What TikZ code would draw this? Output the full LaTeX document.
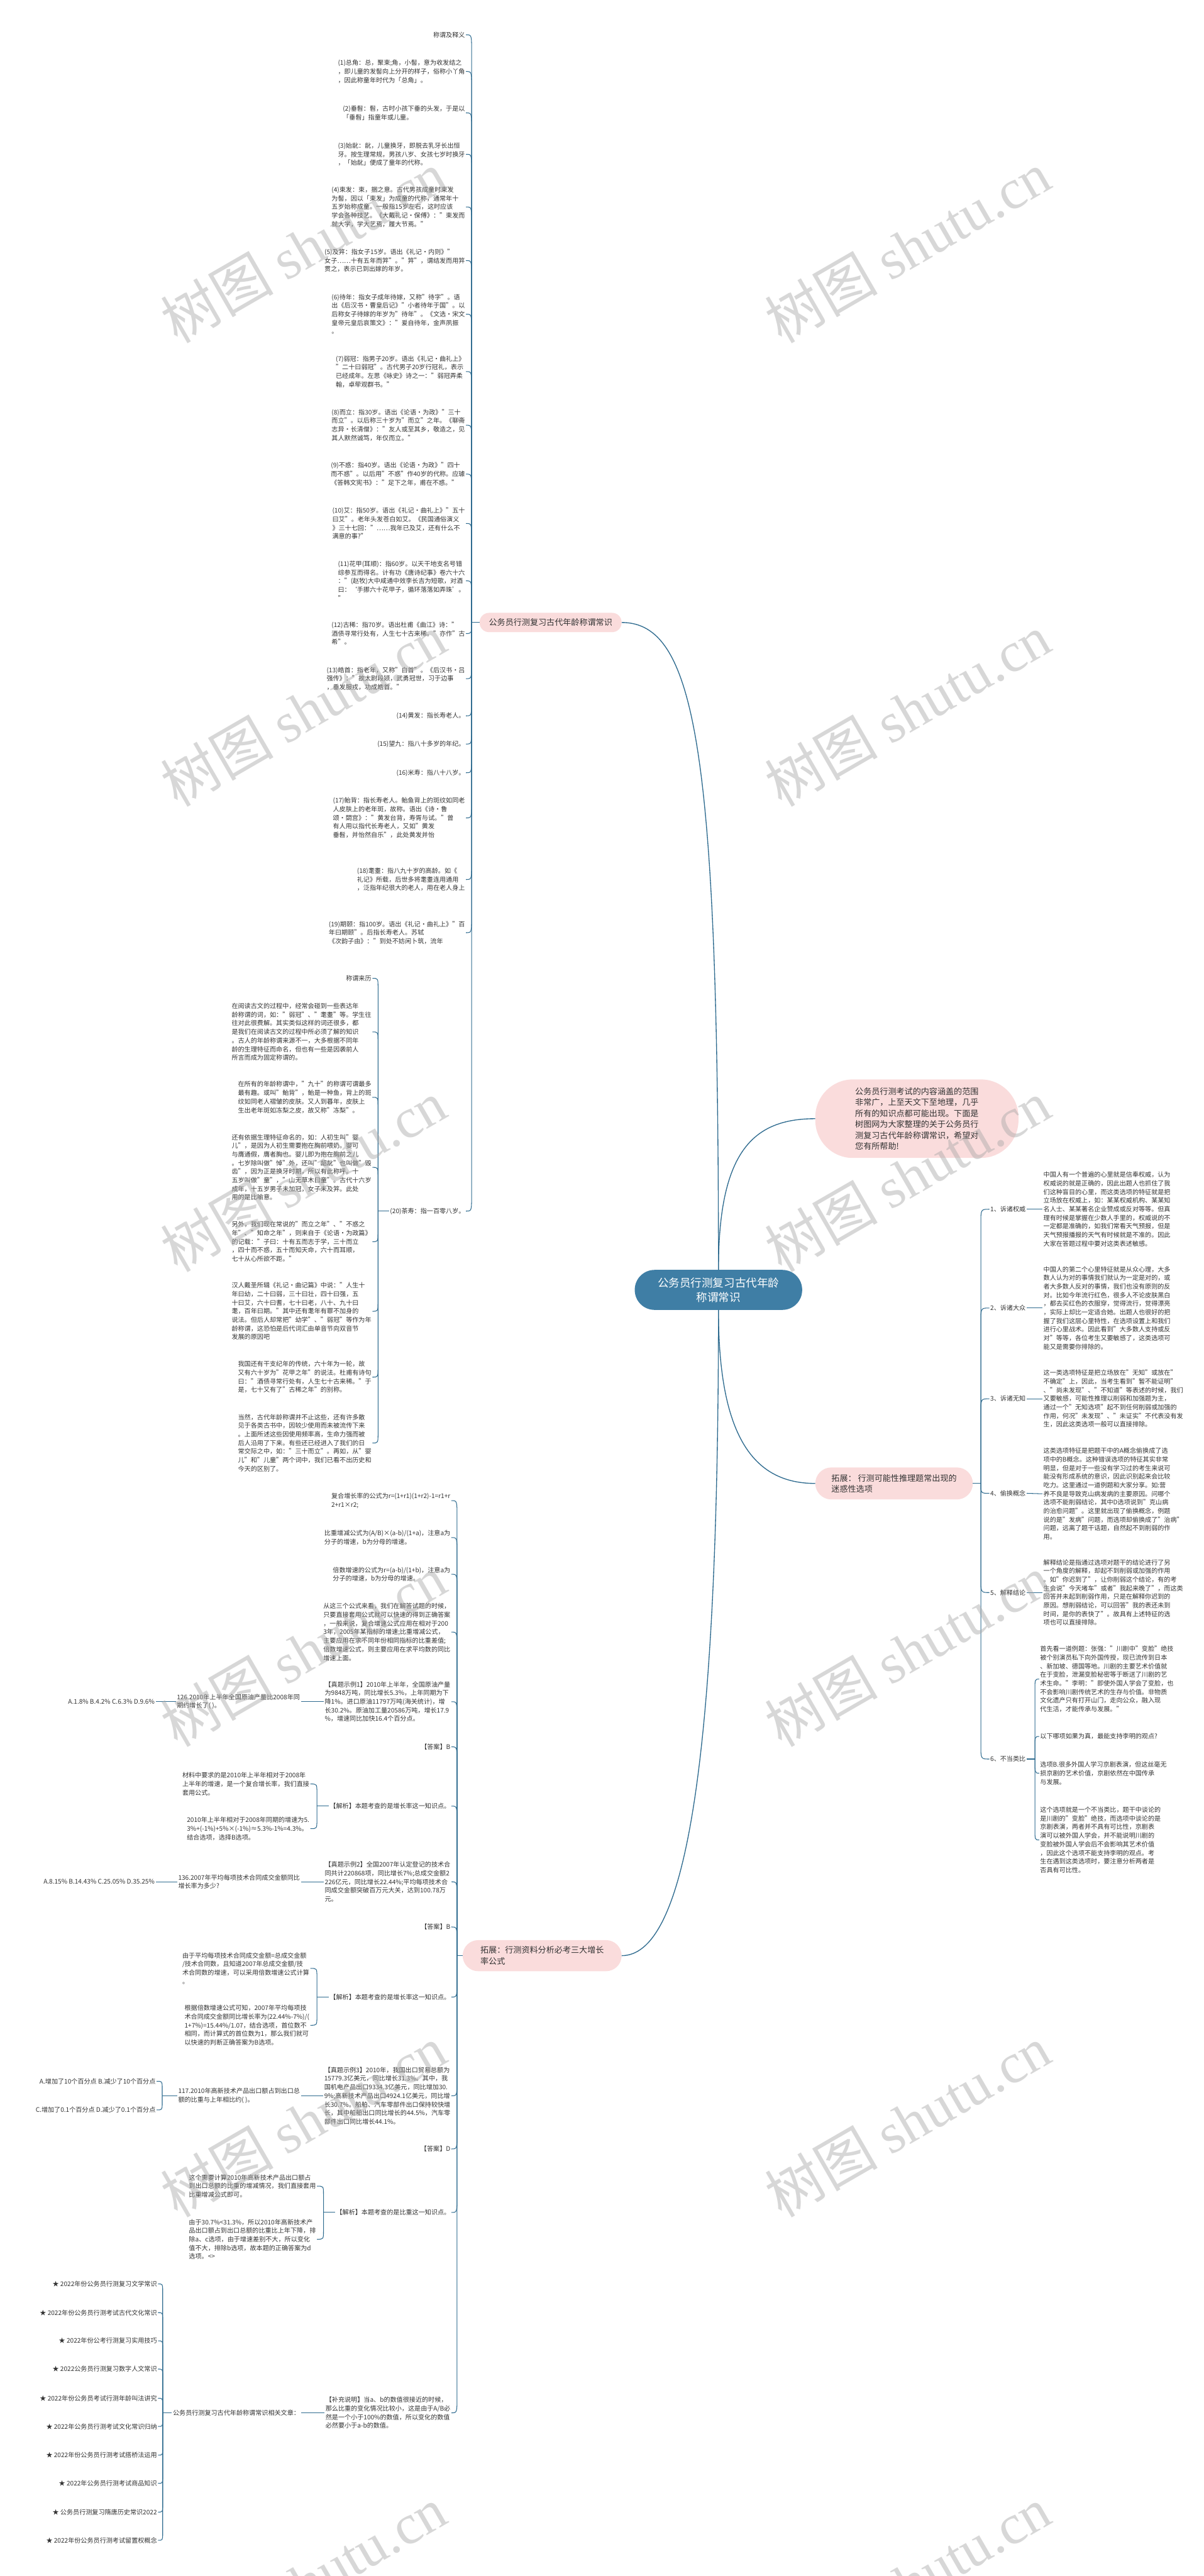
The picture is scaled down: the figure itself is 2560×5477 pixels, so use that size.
\documentclass[tikz,border=0pt]{standalone}
\usepackage{fontspec}
\setmainfont{Noto Sans CJK SC}
\newfontfamily\wmlatin{Liberation Serif}
\usetikzlibrary{calc}
\definecolor{linec}{HTML}{2E6B8F}
\definecolor{mainc}{HTML}{3F7EA5}
\definecolor{pinkc}{HTML}{FADCDC}
\definecolor{txtc}{HTML}{333333}
\definecolor{wmc}{HTML}{A8A8A8}
\newcommand\leaffont{\fontsize{13.5}{18.3}\selectfont}
\newcommand\brfont{\fontsize{17.5}{23.4}\selectfont}
\newcommand\rootfont{\fontsize{23.5}{31}\selectfont}
\newcommand\hkc[3]{\draw[conn] (#1) -- ($(#1 |- #2)+(0,#3)$) .. controls (#1 |- #2) .. (#2);}
\newcommand\dirc[2]{\draw[conn] (#1) .. controls (#1 |- #2) .. (#2);}
\tikzset{
  conn/.style={draw=linec, line width=1.4pt},
  bconn/.style={draw=linec, line width=1.8pt},
  leaf/.style={font=\leaffont, text=txtc, align=left, inner sep=2pt},
  pinkbox/.style={fill=pinkc, font=\brfont, text=txtc, align=left, inner sep=0pt},
  rootbox/.style={fill=mainc, font=\rootfont, text=white, align=center, inner sep=0pt, rounded corners=42pt, minimum width=356pt, minimum height=85pt},
  wm/.style={rotate=30, text=wmc, opacity=0.45, font=\fontsize{120}{120}\selectfont, inner sep=0pt}
}
\begin{document}
\begin{tikzpicture}[x=1pt,y=-1pt]
\fill[white] (0,0) rectangle (2560,5477);
\useasboundingbox (0,0) rectangle (2560,5477);

% ---------------- root and branches ----------------
\node[rootbox] (M) at (1528,2742.5) {公务员行测复习古代年龄\\称谓常识};
\node[pinkbox, rounded corners=20pt, minimum width=302pt, minimum height=41pt] (A) at (1171,1323.5) {公务员行测复习古代年龄称谓常识};
\node[pinkbox, rounded corners=80pt, minimum width=432pt, minimum height=167pt] (I) at (1950,2378.5) {公务员行测考试的内容涵盖的范围\\非常广，上至天文下至地理，几乎\\所有的知识点都可能出现。下面是\\树图网为大家整理的关于公务员行\\测复习古代年龄称谓常识，希望对\\您有所帮助!};
\node[pinkbox, rounded corners=34pt, minimum width=335pt, minimum height=68pt] (R) at (1901.5,3154) {拓展： 行测可能性推理题常出现的\\迷惑性选项};
\node[pinkbox, rounded corners=33pt, minimum width=338pt, minimum height=66pt] (B) at (1153,4158) {拓展：行测资料分析必考三大增长\\率公式};

\draw[bconn] (M.north) .. controls (1528,1600) and (1480,1323.5) .. (A.east);
\draw[bconn] (M.north) .. controls (1528,2450) and (1600,2378.5) .. (I.west);
\draw[bconn] (M.south) .. controls (1528,3050) and (1600,3154) .. (R.west);
\draw[bconn] (M.south) .. controls (1528,3800) and (1450,4158) .. (B.east);

% ---------------- branch A ----------------
\coordinate (PA) at (1003,1323.5);
\draw[conn] (A.west) -- (PA);
\node[leaf, anchor=east] (a0) at (991,74) {称谓及释义};
\node[leaf, anchor=east] (a1) at (991,152) {(1)总角：总，聚束;角，小髻，意为收发结之\\，即儿童的发髻向上分开的样子，俗称小丫角\\，因此称童年时代为「总角」。};
\node[leaf, anchor=east] (a2) at (991,240) {(2)垂髫：髫，古时小孩下垂的头发，于是以\\「垂髫」指童年或儿童。};
\node[leaf, anchor=east] (a3) at (991,328) {(3)始龀：龀，儿童换牙，即脱去乳牙长出恒\\牙。按生理常规，男孩八岁、女孩七岁时换牙\\，「始龀」便成了童年的代称。};
\node[leaf, anchor=east] (a4) at (991,440) {(4)束发：束，捆之意。古代男孩成童时束发\\为髻，因以「束发」为成童的代称，通常年十\\五岁始称成童。一般指15岁左右，这时应该\\学会各种技艺。《大戴礼记·保傅》："束发而\\就大学，学大艺焉，履大节焉。"};
\node[leaf, anchor=east] (a5) at (991,554) {(5)及笄：指女子15岁。语出《礼记·内则》"\\女子……十有五年而笄"。"笄"，谓结发而用笄\\贯之，表示已到出嫁的年岁。};
\node[leaf, anchor=east] (a6) at (991,668) {(6)待年：指女子成年待嫁，又称"待字"。语\\出《后汉书·曹皇后记》"小者待年于国"。以\\后称女子待嫁的年岁为"待年"。《文选·宋文\\皇帝元皇后哀策文》："爰自待年，金声夙振\\。};
\node[leaf, anchor=east] (a7) at (991,790) {(7)弱冠：指男子20岁。语出《礼记·曲礼上》\\"二十曰弱冠"。古代男子20岁行冠礼，表示\\已经成年。左思《咏史》诗之一："弱冠弄柔\\翰，卓荦观群书。"};
\node[leaf, anchor=east] (a8) at (991,904) {(8)而立：指30岁。语出《论语·为政》"三十\\而立"。以后称三十岁为"而立"之年。《聊斋\\志异·长清僧》："友人或至其乡，敬造之，见\\其人默然诚笃，年仅而立。"};
\node[leaf, anchor=east] (a9) at (991,1008) {(9)不惑：指40岁。语出《论语·为政》"四十\\而不惑"。以后用"不惑"作40岁的代称。应璩\\《答韩文宪书》："足下之年，甫在不惑。"};
\node[leaf, anchor=east] (a10) at (991,1113) {(10)艾：指50岁。语出《礼记·曲礼上》"五十\\曰艾"。老年头发苍白如艾。《民国通俗演义\\》三十七回："……我年已及艾，还有什么不\\满意的事?"};
\node[leaf, anchor=east] (a11) at (991,1235) {(11)花甲(耳顺)：指60岁。以天干地支名号错\\综参互而得名。计有功《唐诗纪事》卷六十六\\："(赵牧)大中咸通中效李长吉为短歌，对酒\\曰：‘手挪六十花甲子，循环落落如弄珠’。\\"};
\node[leaf, anchor=east] (a12) at (991,1347) {(12)古稀：指70岁。语出杜甫《曲江》诗："\\酒债寻常行处有，人生七十古来稀。"亦作"古\\希"。};
\node[leaf, anchor=east] (a13) at (991,1443) {(13)皓首：指老年，又称"白首"。《后汉书·吕\\强传》："故太尉段颎，武勇冠世，习于边事\\，垂发服戎，功成皓首。"};
\node[leaf, anchor=east] (a14) at (991,1522) {(14)黄发：指长寿老人。};
\node[leaf, anchor=east] (a15) at (991,1582) {(15)望九：指八十多岁的年纪。};
\node[leaf, anchor=east] (a16) at (991,1643) {(16)米寿：指八十八岁。};
\node[leaf, anchor=east] (a17) at (991,1739) {(17)鲐背：指长寿老人。鲐鱼背上的斑纹如同老\\人皮肤上的老年斑，故称。语出《诗·鲁\\颂·閟宫》："黄发台背，寿胥与试。"曾\\有人用以指代长寿老人，又如"黄发\\垂髫，并怡然自乐"，此处黄发并怡};
\node[leaf, anchor=east] (a18) at (991,1870) {(18)耄耋：指八九十岁的高龄。如《\\礼记》所载，后世多将耄耋连用通用\\，泛指年纪很大的老人，用在老人身上};
\node[leaf, anchor=east] (a19) at (991,1983) {(19)期颐：指100岁。语出《礼记·曲礼上》"百\\年曰期颐"。后指长寿老人。苏轼\\《次韵子由》："到处不妨闲卜筑，流年};
\node[leaf, anchor=east] (a20) at (991,2575) {(20)茶寿：指一百零八岁。};

\hkc{PA}{a0.east}{35}
\hkc{PA}{a1.east}{35}
\hkc{PA}{a2.east}{35}
\hkc{PA}{a3.east}{35}
\hkc{PA}{a4.east}{35}
\hkc{PA}{a5.east}{35}
\hkc{PA}{a6.east}{35}
\hkc{PA}{a7.east}{35}
\hkc{PA}{a8.east}{35}
\hkc{PA}{a9.east}{35}
\hkc{PA}{a10.east}{35}
\hkc{PA}{a11.east}{35}
\dirc{PA}{a12.east}
\hkc{PA}{a13.east}{-35}
\hkc{PA}{a14.east}{-35}
\hkc{PA}{a15.east}{-35}
\hkc{PA}{a16.east}{-35}
\hkc{PA}{a17.east}{-35}
\hkc{PA}{a18.east}{-35}
\hkc{PA}{a19.east}{-35}
\hkc{PA}{a20.east}{-35}

% children of (20)
\coordinate (P20) at (804,2575);
\draw[conn] (a20.west) -- (P20);
\node[leaf, anchor=east] (b0) at (792,2080) {称谓来历};
\node[leaf, anchor=east] (b1) at (792,2194) {在阅读古文的过程中，经常会碰到一些表达年\\龄称谓的词，如："弱冠"、"耄耋"等。学生往\\往对此很费解。其实类似这样的词还很多，都\\是我们在阅读古文的过程中所必须了解的知识\\。古人的年龄称谓来源不一，大多根据不同年\\龄的生理特征而命名，但也有一些是因袭前人\\所言而成为固定称谓的。};
\node[leaf, anchor=east] (b2) at (792,2333) {在所有的年龄称谓中，"九十"的称谓可谓最多\\最有趣。或叫"鲐背"，鲐是一种鱼，背上的斑\\纹如同老人褶皱的皮肤。又人到暮年，皮肤上\\生出老年斑如冻梨之皮，故又称"冻梨"。};
\node[leaf, anchor=east] (b3) at (792,2482) {还有依据生理特征命名的，如：人初生叫"婴\\儿"，是因为人初生需要抱在胸前喂奶。婴可\\与膺通假，膺者胸也。婴儿即为抱在胸前之儿\\。七岁除叫做"悼"外，还叫"龆龀"也叫做"毁\\齿"，因为正是换牙时期，所以有此称呼。十\\五岁叫做"童"，"山无草木曰童"。古代十六岁\\成年，十五岁男子未加冠，女子未及笄。此处\\用的是比喻意。};
\node[leaf, anchor=east] (b4) at (792,2640) {另外，我们现在常说的"而立之年"、"不惑之\\年"、"知命之年"，则来自于《论语·为政篇》\\的记载："子曰：十有五而志于学，三十而立\\，四十而不惑，五十而知天命，六十而耳顺，\\七十从心所欲不距。"};
\node[leaf, anchor=east] (b5) at (792,2788) {汉人戴圣所辑《礼记·曲记篇》中说："人生十\\年曰幼，二十曰弱，三十曰壮，四十曰强，五\\十曰艾，六十曰耆，七十曰老，八十、九十曰\\耄，百年曰期。"其中还有耄年有罪不加身的\\说法。但后人却常把"幼学"、"弱冠"等作为年\\龄称谓，这恐怕是后代词汇由单音节向双音节\\发展的原因吧};
\node[leaf, anchor=east] (b6) at (792,2928) {我国还有干支纪年的传统，六十年为一轮，故\\又有六十岁为"花甲之年"的说法。杜甫有诗句\\曰："酒债寻常行处有，人生七十古来稀。"于\\是，七十又有了"古稀之年"的别称。};
\node[leaf, anchor=east] (b7) at (792,3068) {当然，古代年龄称谓并不止这些，还有许多散\\见于各类古书中，因较少使用而未被流传下来\\。上面所述这些因使用频率高，生命力强而被\\后人沿用了下来。有些还已经进入了我们的日\\常交际之中，如："三十而立"。再如，从"婴\\儿"和"儿童"两个词中，我们已看不出历史和\\今天的区别了。};
\hkc{P20}{b0.east}{20}
\hkc{P20}{b1.east}{20}
\hkc{P20}{b2.east}{20}
\hkc{P20}{b3.east}{20}
\hkc{P20}{b4.east}{-20}
\hkc{P20}{b5.east}{-20}
\hkc{P20}{b6.east}{-20}
\hkc{P20}{b7.east}{-20}

% ---------------- branch R ----------------
\coordinate (PR) at (2086,3154);
\draw[conn] (R.east) -- (PR);
\node[leaf, anchor=west] (r1) at (2104,2571) {1、诉诸权威};
\node[leaf, anchor=west] (r2) at (2104,2781) {2、诉诸大众};
\node[leaf, anchor=west] (r3) at (2104,2974) {3、诉诸无知};
\node[leaf, anchor=west] (r4) at (2104,3175) {4、偷换概念};
\node[leaf, anchor=west] (r5) at (2104,3386) {5、解释结论};
\node[leaf, anchor=west] (r6) at (2104,3740) {6、不当类比};
\hkc{PR}{r1.west}{30}
\hkc{PR}{r2.west}{30}
\hkc{PR}{r3.west}{30}
\dirc{PR}{r4.west}
\hkc{PR}{r5.west}{-30}
\hkc{PR}{r6.west}{-30}
\node[leaf, anchor=west] (p1) at (2217,2571) {中国人有一个普遍的心里就是信奉权威，认为\\权威说的就是正确的，因此出题人也抓住了我\\们这种盲目的心里，而这类选项的特征就是把\\立场放在权威上，如：某某权威机构、某某知\\名人士、某某著名企业赞成或反对等等。但真\\理有时候是掌握在少数人手里的，权威说的不\\一定都是准确的，如我们常看天气预报，但是\\天气预报播报的天气有时候就是不准的。因此\\大家在答题过程中要对这类表述敏感。};
\node[leaf, anchor=west] (p2) at (2217,2781) {中国人的第二个心里特征就是从众心理，大多\\数人认为对的事情我们就认为一定是对的，或\\者大多数人反对的事情，我们也没有原则的反\\对。比如今年流行红色，很多人不论皮肤黑白\\，都去买红色的衣服穿，觉得流行，觉得漂亮\\，实际上却比一定适合她。出题人也很好的把\\握了我们这层心里特性，在选项设置上和我们\\进行心里战术。因此看到"大多数人支持或反\\对"等等，各位考生又要敏感了，这类选项可\\能又是需要你排除的。};
\node[leaf, anchor=west] (p3) at (2217,2974) {这一类选项特征是把立场放在"无知"或放在"\\不确定"上，因此，当考生看到"暂不能证明"\\、"尚未发现"、"不知道"等表述的时候，我们\\又要敏感，可能性推理以削弱和加强题为主，\\通过一个"无知选项"起不到任何削弱或加强的\\作用，何况"未发现"、"未证实"不代表没有发\\生，因此这类选项一般可以直接排除。};
\node[leaf, anchor=west] (p4) at (2217,3176) {这类选项特征是把题干中的A概念偷换成了选\\项中的B概念。这种错误选项的特征其实非常\\明显，但是对于一些没有学习过的考生来说可\\能没有形成系统的意识，因此识别起来会比较\\吃力。这里通过一道例题和大家分享。如:营\\养不良是导致克山病发病的主要原因。问哪个\\选项不能削弱结论，其中D选项说到"克山病\\的治愈问题"。这里就出现了偷换概念，例题\\说的是"发病"问题，而选项却偷换成了"治病"\\问题，远离了题干话题，自然起不到削弱的作\\用。};
\node[leaf, anchor=west] (p5) at (2217,3386) {解释结论是指通过选项对题干的结论进行了另\\一个角度的解释，却起不到削弱或加强的作用\\。如"你迟到了"，让你削弱这个结论，有的考\\生会说"今天堵车"或者"我起来晚了"，而这类\\回答并未起到削弱作用，只是在解释你迟到的\\原因。想削弱结论，可以回答"我的表还未到\\时间，是你的表快了"。故具有上述特征的选\\项也可以直接排除。};
\draw[conn] (r1.east) -- (p1.west);
\draw[conn] (r2.east) -- (p2.west);
\draw[conn] (r3.east) -- (p3.west);
\draw[conn] (r4.east) -- (p4.west);
\draw[conn] (r5.east) -- (p5.west);
\coordinate (P6) at (2201,3740);
\draw[conn] (r6.east) -- (P6);
\node[leaf, anchor=west] (q1) at (2210,3570) {首先看一道例题：张强："川剧中"变脸"绝技\\被个别演员私下向外国传授，现已流传到日本\\、新加坡、德国等地。川剧的主要艺术价值就\\在于变脸，泄漏变脸秘密等于断送了川剧的艺\\术生命。"李明："即使外国人学会了变脸，也\\不会影响川剧传统艺术的生存与价值。非物质\\文化遗产只有打开山门，走向公众，融入现\\代生活，才能传承与发展。"};
\node[leaf, anchor=west] (q2) at (2210,3692) {以下哪项如果为真，最能支持李明的观点?};
\node[leaf, anchor=west] (q3) at (2210,3770) {选项B.很多外国人学习京剧表演，但这丝毫无\\损京剧的艺术价值，京剧依然在中国传承\\与发展。};
\node[leaf, anchor=west] (q4) at (2210,3912) {这个选项就是一个不当类比，题干中谈论的\\是川剧的"变脸"绝技，而选项中谈论的是\\京剧表演，两者并不具有可比性，京剧表\\演可以被外国人学会，并不能说明川剧的\\变脸被外国人学会后不会影响其艺术价值\\，因此这个选项不能支持李明的观点。考\\生在遇到这类选项时，要注意分析两者是\\否具有可比性。};
\hkc{P6}{q1.west}{25}
\hkc{P6}{q2.west}{25}
\dirc{P6}{q3.west}
\hkc{P6}{q4.west}{-25}

% ---------------- branch B ----------------
\coordinate (PB) at (972,4158);
\draw[conn] (B.west) -- (PB);
\node[leaf, anchor=east] (c1) at (960,3190.5) {复合增长率的公式为r=(1+r1)(1+r2)-1=r1+r\\2+r1×r2;};
\node[leaf, anchor=east] (c2) at (960,3269) {比重增减公式为(A/B)×(a-b)/(1+a)，注意a为\\分子的增速，b为分母的增速。};
\node[leaf, anchor=east] (c3) at (960,3347) {倍数增速的公式为r=(a-b)/(1+b)，注意a为\\分子的增速，b为分母的增速。};
\node[leaf, anchor=east] (c4) at (960,3470) {从这三个公式来看，我们在解答试题的时候，\\只要直接套用公式就可以快速的得到正确答案\\，一般来说，复合增速公式应用在相对于200\\3年，2005年某指标的增速;比重增减公式，\\主要应用在求不同年份相同指标的比重差值;\\倍数增速公式，则主要应用在求平均数的同比\\增速上面。};
\node[leaf, anchor=east] (c5) at (960,3618) {【真题示例1】2010年上半年，全国原油产量\\为9848万吨，同比增长5.3\%，上年同期为下\\降1\%。进口原油11797万吨(海关统计)，增\\长30.2\%。原油加工量20586万吨，增长17.9\\ \%，增速同比加快16.4个百分点。};
\node[leaf, anchor=east] (c6) at (960,3714) {【答案】B};
\node[leaf, anchor=east] (c7) at (960,3840) {【解析】本题考查的是增长率这一知识点。};
\node[leaf, anchor=east] (c8) at (960,4001) {【真题示例2】全国2007年认定登记的技术合\\同共计220868项，同比增长7\%;总成交金额2\\226亿元，同比增长22.44\%;平均每项技术合\\同成交金额突破百万元大关，达到100.78万\\元。};
\node[leaf, anchor=east] (c9) at (960,4097) {【答案】B};
\node[leaf, anchor=east] (c10) at (960,4246) {【解析】本题考查的是增长率这一知识点。};
\node[leaf, anchor=east] (c11) at (960,4456) {【真题示例3】2010年，我国出口贸易总额为\\15779.3亿美元，同比增长31.3\%。其中，我\\国机电产品出口9334.3亿美元，同比增加30.\\9\%;高新技术产品出口4924.1亿美元，同比增\\长30.7\%。船舶、汽车零部件出口保持较快增\\长，其中船舶出口同比增长的44.5\%，汽车零\\部件出口同比增长44.1\%。};
\node[leaf, anchor=east] (c12) at (960,4569) {【答案】D};
\node[leaf, anchor=east] (c13) at (960,4704) {【解析】本题考查的是比重这一知识点。};
\node[leaf, anchor=east] (c14) at (960,5130) {【补充说明】当a、b的数值很接近的时候，\\那么比重的变化情况比较小，这是由于A/B必\\然是一个小于100\%的数值，所以变化的数值\\必然要小于a-b的数值。};
\hkc{PB}{c1.east}{35}
\hkc{PB}{c2.east}{35}
\hkc{PB}{c3.east}{35}
\hkc{PB}{c4.east}{35}
\hkc{PB}{c5.east}{35}
\hkc{PB}{c6.east}{35}
\hkc{PB}{c7.east}{35}
\hkc{PB}{c8.east}{35}
\hkc{PB}{c9.east}{35}
\hkc{PB}{c10.east}{-35}
\hkc{PB}{c11.east}{-35}
\hkc{PB}{c12.east}{-35}
\hkc{PB}{c13.east}{-35}
\hkc{PB}{c14.east}{-35}

% example 1
\node[leaf, anchor=east] (d5) at (640,3618) {126.2010年上半年全国原油产量比2008年同\\期约增长了( )。};
\node[leaf, anchor=east] (e5) at (331,3618) {A.1.8\% B.4.2\% C.6.3\% D.9.6\%};
\draw[conn] (c5.west) -- (d5.east);
\draw[conn] (d5.west) -- (e5.east);
\coordinate (P7) at (674,3840);
\draw[conn] (c7.west) -- (P7);
\node[leaf, anchor=east] (f1) at (660,3793) {材料中要求的是2010年上半年相对于2008年\\上半年的增速，是一个复合增长率，我们直接\\套用公式。};
\node[leaf, anchor=east] (f2) at (660,3888) {2010年上半年相对于2008年同期的增速为5.\\3\%+(-1\%)+5\%×(-1\%)≈5.3\%-1\%=4.3\%。\\结合选项，选择B选项。};
\hkc{P7}{f1.east}{18}
\hkc{P7}{f2.east}{-18}

% example 2
\node[leaf, anchor=east] (d8) at (640,4001) {136.2007年平均每项技术合同成交金额同比\\增长率为多少?};
\node[leaf, anchor=east] (e8) at (331,4001) {A.8.15\% B.14.43\% C.25.05\% D.35.25\%};
\draw[conn] (c8.west) -- (d8.east);
\draw[conn] (d8.west) -- (e8.east);
\coordinate (P10) at (674,4246);
\draw[conn] (c10.west) -- (P10);
\node[leaf, anchor=east] (g1) at (660,4185) {由于平均每项技术合同成交金额=总成交金额\\/技术合同数，且知道2007年总成交金额/技\\术合同数的增速，可以采用倍数增速公式计算\\。};
\node[leaf, anchor=east] (g2) at (660,4306) {根据倍数增速公式可知，2007年平均每项技\\术合同成交金额同比增长率为(22.44\%-7\%)/(\\1+7\%)=15.44\%/1.07，结合选项，首位数不\\相同，而计算式的首位数为1，那么我们就可\\以快速的判断正确答案为B选项。};
\hkc{P10}{g1.east}{18}
\hkc{P10}{g2.east}{-18}

% example 3
\node[leaf, anchor=east] (d11) at (640,4456) {117.2010年高新技术产品出口额占到出口总\\额的比重与上年相比约( )。};
\draw[conn] (c11.west) -- (d11.east);
\coordinate (P11) at (345,4456);
\draw[conn] (d11.west) -- (P11);
\node[leaf, anchor=east] (e11a) at (333,4425) {A.增加了10个百分点 B.减少了10个百分点};
\node[leaf, anchor=east] (e11b) at (333,4486) {C.增加了0.1个百分点 D.减少了0.1个百分点};
\hkc{P11}{e11a.east}{15}
\hkc{P11}{e11b.east}{-15}
\coordinate (P13) at (688,4704);
\draw[conn] (c13.west) -- (P13);
\node[leaf, anchor=east] (h1) at (674,4648) {这个需要计算2010年高新技术产品出口额占\\到出口总额的比重的增减情况，我们直接套用\\比重增减公式即可。};
\node[leaf, anchor=east] (h2) at (674,4761) {由于30.7\%<31.3\%，所以2010年高新技术产\\品出口额占到出口总额的比重比上年下降，排\\除a、c选项，由于增速差别不大，所以变化\\值不大，排除b选项，故本题的正确答案为d\\选项。<>};
\hkc{P13}{h1.east}{18}
\hkc{P13}{h2.east}{-18}

% related articles
\node[leaf, anchor=east] (d14) at (640,5130) {公务员行测复习古代年龄称谓常识相关文章：};
\draw[conn] (c14.west) -- (d14.east);
\coordinate (P14) at (346,5130);
\draw[conn] (d14.west) -- (P14);
\node[leaf, anchor=east] (l1) at (336,4856) {★ 2022年份公务员行测复习文学常识};
\node[leaf, anchor=east] (l2) at (336,4917) {★ 2022年份公务员行测考试古代文化常识};
\node[leaf, anchor=east] (l3) at (336,4977) {★ 2022年份公考行测复习实用技巧};
\node[leaf, anchor=east] (l4) at (336,5037) {★ 2022公务员行测复习数字人文常识};
\node[leaf, anchor=east] (l5) at (336,5099) {★ 2022年份公务员考试行测年龄叫法讲究};
\node[leaf, anchor=east] (l6) at (336,5159) {★ 2022年公务员行测考试文化常识归纳};
\node[leaf, anchor=east] (l7) at (336,5220) {★ 2022年份公务员行测考试搭桥法运用};
\node[leaf, anchor=east] (l8) at (336,5280) {★ 2022年公务员行测考试商品知识};
\node[leaf, anchor=east] (l9) at (336,5341) {★ 公务员行测复习隋唐历史常识2022};
\node[leaf, anchor=east] (l10) at (336,5401) {★ 2022年份公务员行测考试留置权概念};
\hkc{P14}{l1.east}{15}
\hkc{P14}{l2.east}{15}
\hkc{P14}{l3.east}{15}
\hkc{P14}{l4.east}{15}
\hkc{P14}{l5.east}{15}
\hkc{P14}{l6.east}{-15}
\hkc{P14}{l7.east}{-15}
\hkc{P14}{l8.east}{-15}
\hkc{P14}{l9.east}{-15}
\hkc{P14}{l10.east}{-15}

% ---------------- watermarks ----------------
\foreach \wy in {525,1510,2500,3510,4510,5490}{
  \node[wm] at (645,\wy) {树图 {\wmlatin shutu.cn}};
  \node[wm] at (1930,\wy) {树图 {\wmlatin shutu.cn}};
}
\end{tikzpicture}
\end{document}
